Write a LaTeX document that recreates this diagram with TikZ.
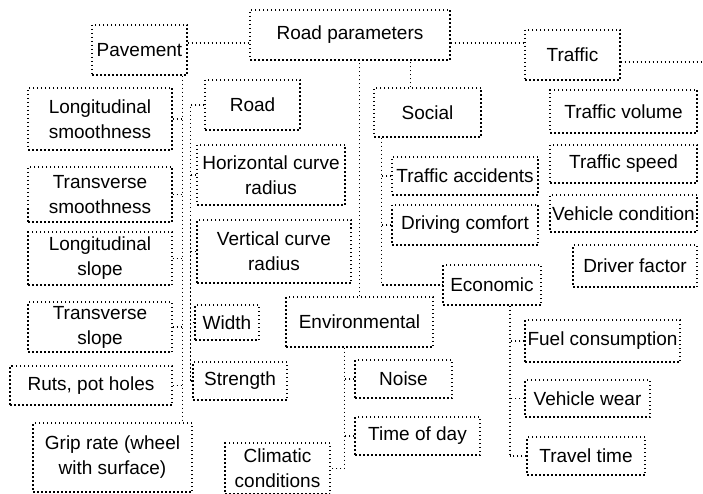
\documentclass[tikz,border=0pt]{standalone}
\usepackage{fontspec}
\setmainfont{Liberation Sans}
\tikzset{
  box/.style={draw, dash pattern=on 1.5pt off 2.5pt, line width=1.3pt, align=center, inner sep=2pt, font=\fontsize{19}{25}\selectfont},
  link/.style={draw, dash pattern=on 1.5pt off 2.5pt, line width=1.3pt},
}
\begin{document}
\begin{tikzpicture}[x=1pt, y=-1pt]
    \useasboundingbox (0,0) rectangle (703,494);

    % Top level
    \node[box, minimum width=200pt, minimum height=50pt] (rp) at (350,35) {Road parameters};
    \node[box, minimum width=95pt, minimum height=50pt] (pav) at (139.5,50) {Pavement};
    \node[box, minimum width=95pt, minimum height=50pt] (traf) at (572.5,55) {Traffic};
    \node[box, minimum width=95pt, minimum height=50pt] (road) at (252.5,105) {Road};
    \node[box, minimum width=107pt, minimum height=49pt] (soc) at (427.5,112.5) {Social};
    \node[box, minimum width=147pt, minimum height=50pt] (env) at (359.5,322) {Environmental};
    \node[box, minimum width=98pt, minimum height=40pt] (eco) at (492,285) {Economic};

    % Pavement
    \node[box, minimum width=144pt, minimum height=62pt] (ls) at (100,119) {Longitudinal\\smoothness};
    \node[box, minimum width=144pt, minimum height=55pt] (ts) at (100,194.5) {Transverse\\smoothness};
    \node[box, minimum width=144pt, minimum height=53pt] (lsl) at (100,258.5) {Longitudinal\\slope};
    \node[box, minimum width=144pt, minimum height=50pt] (tsl) at (100,327) {Transverse\\slope};
    \node[box, minimum width=162pt, minimum height=39pt] (ruts) at (91,385.5) {Ruts, pot holes};
    \node[box, minimum width=159pt, minimum height=69pt] (grip) at (112.5,457.5) {Grip rate (wheel\\with surface)};

    % Road
    \node[box, minimum width=148pt, minimum height=60pt] (hcr) at (271,175) {Horizontal curve\\radius};
    \node[box, minimum width=154pt, minimum height=63pt] (vcr) at (274,251.5) {Vertical curve\\radius};
    \node[box, minimum width=64pt, minimum height=35pt] (wid) at (227,322.5) {Width};
    \node[box, minimum width=94pt, minimum height=38pt] (str) at (240,381) {Strength};

    % Social
    \node[box, minimum width=146pt, minimum height=38pt] (tacc) at (465,176) {Traffic accidents};
    \node[box, minimum width=146pt, minimum height=40pt] (dcom) at (465,225) {Driving comfort};

    % Traffic
    \node[box, minimum width=147pt, minimum height=43pt] (tvol) at (623.5,111.5) {Traffic volume};
    \node[box, minimum width=147pt, minimum height=38pt] (tspd) at (623.5,164) {Traffic speed};
    \node[box, minimum width=147pt, minimum height=37pt] (vcon) at (623.5,213.5) {Vehicle condition};
    \node[box, minimum width=124pt, minimum height=42pt] (drv) at (635,266) {Driver factor};

    % Economic
    \node[box, minimum width=155pt, minimum height=42pt] (fuel) at (602.5,341) {Fuel consumption};
    \node[box, minimum width=125pt, minimum height=37pt] (vwear) at (587.5,398.5) {Vehicle wear};
    \node[box, minimum width=118pt, minimum height=38pt] (ttime) at (586,456) {Travel time};

    % Environmental
    \node[box, minimum width=97pt, minimum height=38pt] (noise) at (403.5,379) {Noise};
    \node[box, minimum width=125pt, minimum height=38pt] (tday) at (417.5,436) {Time of day};
    \node[box, minimum width=105pt, minimum height=51pt] (clim) at (277.5,468.5) {Climatic\\conditions};

    % Top links
    \coordinate (tout) at (703,62);
    \draw[link] (pav.east |- 0,43) -- (rp.west |- 0,43);
    \draw[link] (rp.east |- 0,43) -- (traf.west |- 0,43);
    \draw[link] (traf.east |- tout) -- (tout);
    \draw[link] ([xshift=37pt]soc.north west) -- ([xshift=37pt]soc.north west |- rp.south);
    \draw[link] (env.north) -- (env.north |- rp.south);

    % Pavement links
    \coordinate (pb) at ([xshift=-5pt]pav.south east);
    \draw[link] (pb) -- (pb |- grip.north);
    \foreach \n in {ls,ts,lsl,tsl,ruts} \draw[link] (\n.east) -- (\n.east -| pb);

    % Road links
    \coordinate (rb) at ([xshift=-14pt]road.west);
    \draw[link] (road.west) -- (rb) -- (rb |- str.west);
    \foreach \n in {hcr,vcr,wid,str} \draw[link] (\n.west) -- (\n.west -| rb);

    % Social links
    \coordinate (sb) at ([xshift=8pt]soc.south west);
    \draw[link] (sb) -- (sb |- eco.west) -- (eco.west);
    \foreach \n in {tacc,dcom} \draw[link] (\n.west) -- (\n.west -| sb);

    % Economic links
    \coordinate (eb) at ([xshift=18pt]eco.south);
    \draw[link] (eb) -- (eb |- ttime.west);
    \foreach \n in {fuel,vwear,ttime} \draw[link] (\n.west) -- (\n.west -| eb);

    % Environmental links
    \coordinate (vb) at ([xshift=-15pt]env.south);
    \draw[link] (vb) -- (vb |- clim.east) -- (clim.east);
    \foreach \n in {noise,tday} \draw[link] (\n.west) -- (\n.west -| vb);
\end{tikzpicture}
\end{document}
